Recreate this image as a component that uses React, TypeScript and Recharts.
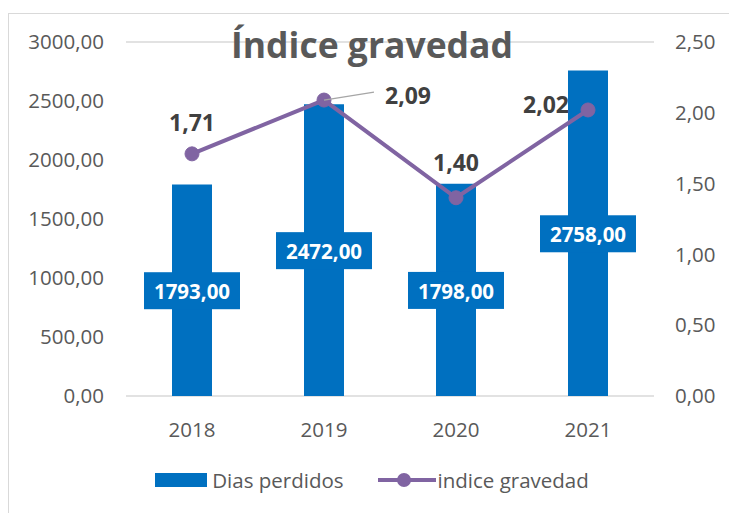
import React from "react";
import {
  ComposedChart,
  Bar,
  Line,
  XAxis,
  YAxis,
  CartesianGrid,
  Legend,
  LabelList,
} from "recharts";

const years = ["2018", "2019", "2020", "2021"];
const diasPerdidos = [1793, 2472, 1798, 2758];
const indiceGravedad = [1.71, 2.09, 1.4, 2.02];
const leftTicks = [0, 500, 1000, 1500, 2000, 2500, 3000];
const rightTicks = [0, 0.5, 1, 1.5, 2, 2.5];

const data = years.map((year, i) => ({
  year,
  dias: diasPerdidos[i],
  indice: indiceGravedad[i],
}));

const FONT = "'Open Sans', 'Noto Sans', sans-serif";
const BLUE = "#0070C0";
const PURPLE = "#8064A2";
const GREY = "#595959";

const fmt = (v: number) => v.toFixed(2).replace(".", ",");

// label placement for the line points (offsets from the point)
const lineLabelOffsets = [
  { dx: 0, dy: -32, leader: false },
  { dx: 84, dy: -5, leader: true },
  { dx: 0, dy: -36, leader: false },
  { dx: -42, dy: -6, leader: false },
];

const BarLabel = (props: any) => {
  const { x, y, width, height, value } = props;
  const cx = x + width / 2;
  const cy = y + height / 2;
  return (
    <g>
      <rect x={cx - 48} y={cy - 18} width={96} height={37} fill={BLUE} />
      <text
        x={cx}
        y={cy + 1}
        fill="#fff"
        fontSize={20.5}
        fontWeight="bold"
        fontFamily={FONT}
        textAnchor="middle"
        dominantBaseline="central"
      >
        {fmt(value)}
      </text>
    </g>
  );
};

const LineLabel = (props: any) => {
  const { x, y, value, index } = props;
  const o = lineLabelOffsets[index];
  return (
    <g>
      {o.leader && (
        <line
          x1={x}
          y1={y}
          x2={x + o.dx - 34}
          y2={y + o.dy - 3}
          stroke="#a6a6a6"
          strokeWidth={1.2}
        />
      )}
      <text
        x={x + o.dx}
        y={y + o.dy}
        fill="#404040"
        fontSize={23}
        fontWeight="bold"
        fontFamily={FONT}
        textAnchor="middle"
        dominantBaseline="central"
      >
        {fmt(value)}
      </text>
    </g>
  );
};

const LegendContent = () => (
  <div
    style={{
      display: "flex",
      alignItems: "center",
      justifyContent: "center",
      fontFamily: FONT,
      fontSize: 20.5,
      color: GREY,
      height: 26,
    }}
  >
    <span
      style={{ display: "inline-block", width: 52, height: 14, background: BLUE, marginRight: 5 }}
    />
    <span style={{ marginRight: 34 }}>Dias perdidos</span>
    <svg width={58} height={16} style={{ marginRight: 2 }}>
      <line x1={0} y1={8} x2={58} y2={8} stroke={PURPLE} strokeWidth={4} />
      <circle cx={26} cy={8} r={7} fill={PURPLE} />
    </svg>
    <span>indice gravedad</span>
  </div>
);

export default function App() {
  return (
    <div style={{ position: "absolute", left: 0, top: 0, width: 729, height: 513, background: "#fff" }}>
      <div
        style={{
          position: "absolute",
          left: 8,
          top: 13,
          width: 740,
          height: 520,
          border: "1.5px solid #d9d9d9",
        }}
      />
      <ComposedChart
        width={729}
        height={513}
        data={data}
        margin={{ top: 42, right: 0, left: 0, bottom: 41 }}
        style={{ position: "absolute", left: 0, top: 0 }}
      >
        <CartesianGrid vertical={false} stroke="#d9d9d9" strokeWidth={1.5} />
        <XAxis
          dataKey="year"
          axisLine={false}
          tickLine={false}
          height={50}
          tickMargin={20}
          tick={{ fill: GREY, fontSize: 20.5, fontFamily: FONT }}
        />
        <YAxis
          yAxisId="left"
          width={126}
          domain={[0, 3000]}
          ticks={leftTicks}
          axisLine={false}
          tickLine={false}
          tickMargin={16}
          tickFormatter={fmt}
          tick={{ fill: GREY, fontSize: 20.5, fontFamily: FONT }}
        />
        <YAxis
          yAxisId="right"
          orientation="right"
          width={75}
          domain={[0, 2.5]}
          ticks={rightTicks}
          axisLine={false}
          tickLine={false}
          tickMargin={15}
          tickFormatter={fmt}
          tick={{ fill: GREY, fontSize: 20.5, fontFamily: FONT }}
        />
        <Bar
          yAxisId="left"
          dataKey="dias"
          name="Dias perdidos"
          fill={BLUE}
          barSize={40}
          isAnimationActive={false}
        >
          <LabelList dataKey="dias" content={BarLabel} />
        </Bar>
        <Line
          yAxisId="right"
          dataKey="indice"
          name="indice gravedad"
          type="linear"
          stroke={PURPLE}
          strokeWidth={4}
          dot={{ r: 7, fill: PURPLE, stroke: PURPLE, strokeWidth: 1 }}
          activeDot={false}
          isAnimationActive={false}
        >
          <LabelList dataKey="indice" content={LineLabel} />
        </Line>
        <Legend
          content={LegendContent}
          wrapperStyle={{ top: 467, left: 0, width: 744 }}
        />
      </ComposedChart>
      <div
        style={{
          position: "absolute",
          left: 0,
          width: 744,
          top: 19,
          textAlign: "center",
          fontFamily: FONT,
          fontWeight: "bold",
          fontSize: 35.5,
          color: GREY,
          lineHeight: "50px",
          pointerEvents: "none",
        }}
      >
        Índice gravedad
      </div>
    </div>
  );
}
